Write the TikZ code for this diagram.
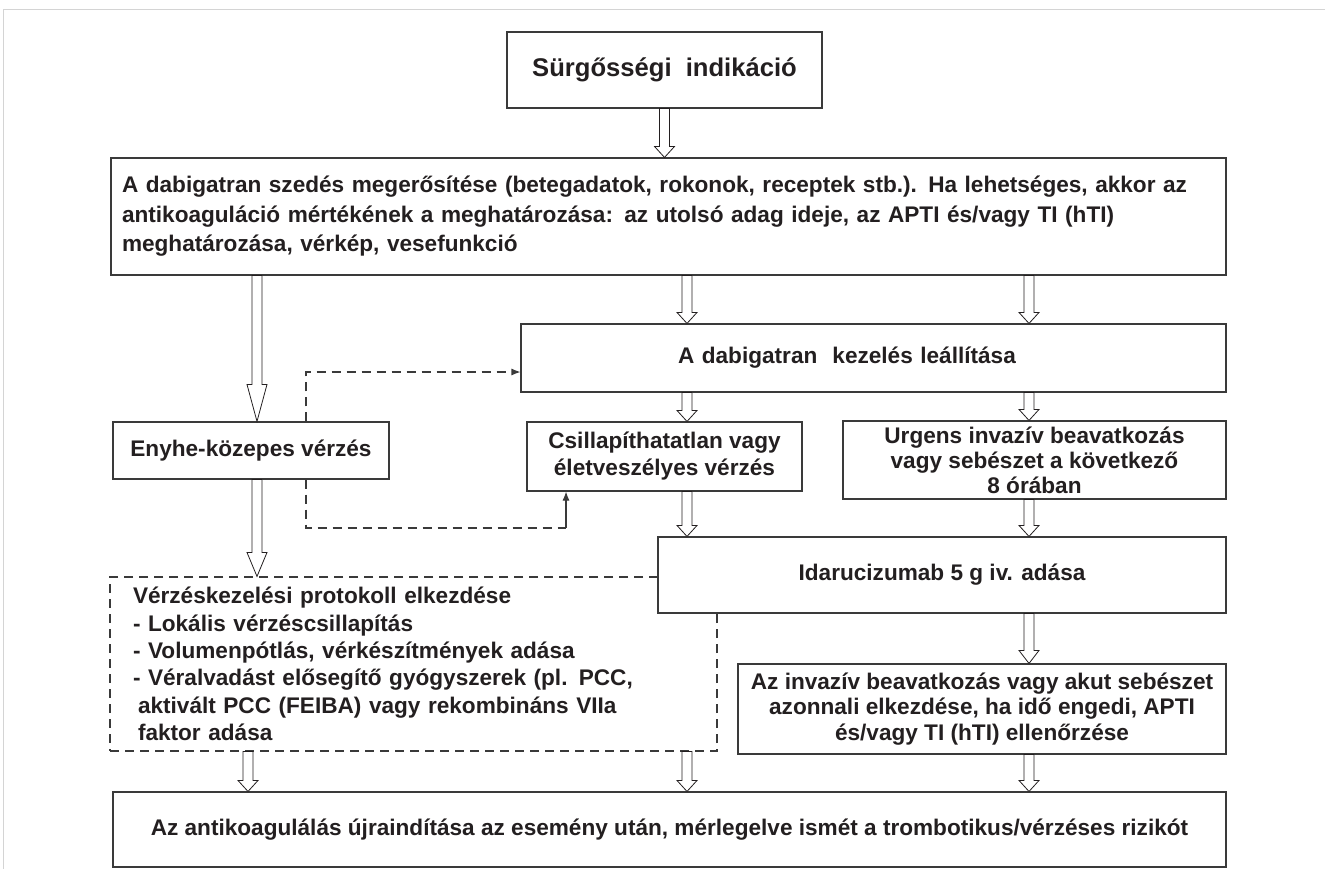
\documentclass[tikz,border=0pt]{standalone}
\usepackage{fontspec}
\setmainfont{Liberation Sans}
\usepackage{tikz}
\usetikzlibrary{arrows.meta,calc}
\definecolor{inkc}{HTML}{231F20}
\definecolor{linec}{HTML}{3A3A3A}
\definecolor{framec}{HTML}{D4D4D4}
\tikzset{every node/.style={font=\fontsize{22.6}{27}\selectfont\bfseries, text=inkc}}
\tikzset{box/.style={draw=linec, line width=1.1pt, fill=white, inner sep=0pt, align=center}}
\tikzset{dashbox/.style={box, dash pattern=on 9pt off 6pt}}
\tikzset{headlen/.store in=\fatheadlen, headlen=11pt}
% hollow block arrow, shaft 10pt, head 20pt
\tikzset{fat/.style={draw=inkc, line width=0.8pt, fill=white,
    to path={let \p1=(\tikztostart), \p2=(\tikztotarget) in
      (\x1-5pt,\y1) -- (\x1-5pt,\y2+\fatheadlen) -- (\x1-10pt,\y2+\fatheadlen) -- (\x1,\y2)
      -- (\x1+10pt,\y2+\fatheadlen) -- (\x1+5pt,\y2+\fatheadlen) -- (\x1+5pt,\y1) -- cycle}}}
\tikzset{dashlink/.style={draw=linec, line width=1.1pt, dash pattern=on 9pt off 6pt}}
\begin{document}
\begin{tikzpicture}[x=1pt,y=-1pt]
\useasboundingbox (0,0) rectangle (1325,869);
\draw[framec, line width=1pt] (3,869) -- (3,10) -- (1325,10);

% columns of the block arrows
\coordinate (colA) at (257,0);
\coordinate (colD) at (248,0);
\coordinate (colB) at (687,0);
\coordinate (colC) at (1029,0);

\node[box, minimum width=315pt, minimum height=76pt, font=\fontsize{25.6}{30}\selectfont\bfseries] (urgent) at (664.5,70) {Sürgősségi\ \ indikáció};
\node[box, minimum width=1115pt, minimum height=117pt, text width=1093pt, align=left, font=\fontsize{22.6}{29.5}\selectfont\bfseries] (confirm) at (668.5,216.5)
   {A dabigatran szedés megerősítése (betegadatok, rokonok, receptek stb.). Ha lehetséges, akkor az\\
    antikoaguláció mértékének a meghatározása: az utolsó adag ideje, az APTI és/vagy TI (hTI)\\
    meghatározása, vérkép, vesefunkció};
\node[box, minimum width=705pt, minimum height=68pt, text width=391pt, align=left] (stop) at (873.5,358) {A dabigatran\ \ kezelés leállítása};
\node[box, minimum width=276pt, minimum height=57pt] (enyhe) at (251,450.5) {Enyhe-közepes vérzés};
\node[box, minimum width=275pt, minimum height=69pt] (csill) at (664.5,456.5) {Csillapíthatatlan vagy\\életveszélyes vérzés};
\node[box, minimum width=383pt, minimum height=78pt, font=\fontsize{22.6}{25}\selectfont\bfseries] (urgens) at (1034.5,460)
   {Urgens invazív beavatkozás\\vagy sebészet a következő\\8 órában};
\node[dashbox, minimum width=607pt, minimum height=174pt, text width=561pt, align=left, font=\fontsize{22.6}{27.3}\selectfont\bfseries] (prot) at (413.5,664)
   {Vérzéskezelési protokoll elkezdése\\
    - Lokális vérzéscsillapítás\\
    - Volumenpótlás, vérkészítmények adása\\
    - Véralvadást elősegítő gyógyszerek (pl. PCC,\\
    \hspace*{5pt}aktivált PCC (FEIBA) vagy rekombináns VIIa\\
    \hspace*{5pt}faktor adása};
\node[box, minimum width=568pt, minimum height=76pt] (idaru) at (942,575) {Idarucizumab 5 g iv. adása};
\node[box, minimum width=488pt, minimum height=90pt, font=\fontsize{22.6}{25.5}\selectfont\bfseries] (invasive) at (982,709)
   {Az invazív beavatkozás vagy akut sebészet\\azonnali elkezdése, ha idő engedi, APTI\\és/vagy TI (hTI) ellenőrzése};
\node[box, minimum width=1113pt, minimum height=75pt] (restart) at (669.5,829.5)
   {Az antikoagulálás újraindítása az esemény után, mérlegelve ismét a trombotikus/vérzéses rizikót};

\draw[fat] (urgent.south) to (confirm.north);
\draw[fat, headlen=37pt] (colA |- confirm.south) to (colA |- enyhe.north);
\draw[fat] (colB |- confirm.south) to (colB |- stop.north);
\draw[fat] (colC |- confirm.south) to (colC |- stop.north);
\draw[fat] (colB |- stop.south) to (colB |- csill.north);
\draw[fat] (colC |- stop.south) to (colC |- urgens.north);
\draw[fat, headlen=24pt] (colA |- enyhe.south) to (colA |- prot.north);
\draw[fat] (colB |- csill.south) to (colB |- idaru.north);
\draw[fat] (colC |- urgens.south) to (colC |- idaru.north);
\draw[fat, headlen=13pt] (colC |- idaru.south) to (colC |- invasive.north);
\draw[fat] (colD |- prot.south) to (colD |- restart.north);
\draw[fat] (colB |- prot.south) to (colB |- restart.north);
\draw[fat] (colC |- invasive.south) to (colC |- restart.north);

% dashed links from the mild bleeding box
\coordinate (dtop) at (306,372);
\coordinate (dbot) at (306,528);
\coordinate (dup) at (566,528);
\draw[dashlink, -{Latex[length=9pt,width=7pt]}] (enyhe.north -| dtop) -- (dtop) -- (dtop -| stop.west);
\draw[dashlink] (enyhe.south -| dbot) -- (dbot) -- (dup);
\draw[draw=linec, line width=1.1pt, -{Latex[length=9pt,width=7pt]}] (dup) -- (dup |- csill.south);
\end{tikzpicture}
\end{document}
